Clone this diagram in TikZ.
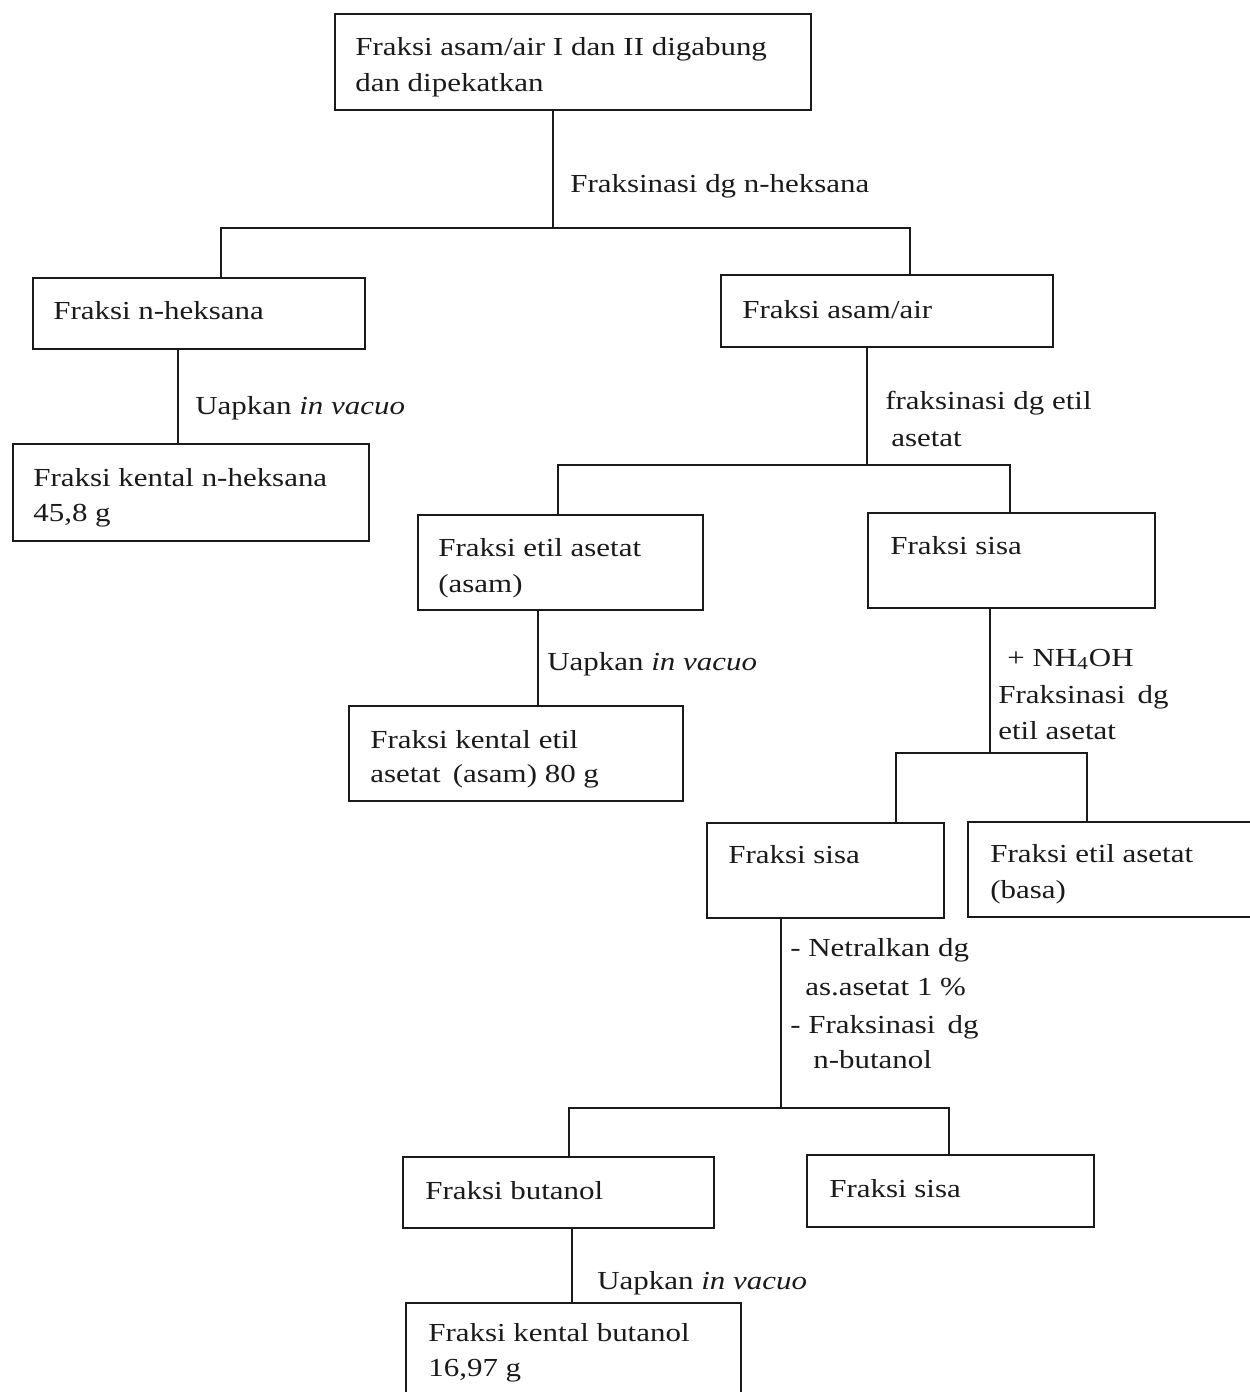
\documentclass[tikz,border=0pt]{standalone}
\usepackage{fontspec}
\setmainfont{Liberation Serif}[FakeStretch=1.19]
\usetikzlibrary{fit}
\definecolor{ink}{HTML}{1A1A1A}
\begin{document}
\begin{tikzpicture}[x=0.02cm,y=-0.02cm,
  box/.style={draw=ink, line width=1.1pt, inner sep=0pt},
  txt/.style={anchor=base west, inner sep=0pt, text=ink, font=\fontsize{14.8}{17}\selectfont},
  ln/.style={draw=ink, line width=1.1pt}]
\useasboundingbox (0,0) rectangle (1250,1392);
\clip (0,0) rectangle (1250,1392);

% boxes
\node[box, fit={(335,14) (811,110)}] (b1) {};
\node[box, fit={(33,278) (365,349)}] (b2) {};
\node[box, fit={(721,275) (1053,347)}] (b3) {};
\node[box, fit={(13,444) (369,541)}] (b4) {};
\node[box, fit={(418,515) (703,610)}] (b5) {};
\node[box, fit={(868,513) (1155,608)}] (b6) {};
\node[box, fit={(349,706) (683,801)}] (b7) {};
\node[box, fit={(707,823) (944,918)}] (b8) {};
\node[box, fit={(968,822) (1262,917)}] (b9) {};
\node[box, fit={(403,1157) (714,1228)}] (b10) {};
\node[box, fit={(807,1155) (1094,1227)}] (b11) {};
\node[box, fit={(406,1303) (741,1420)}] (b12) {};

% box texts
\node[txt] (t1a) at (355,56) {Fraksi asam/air I dan II digabung};
\node[txt] (t1b) at (355,92) {dan dipekatkan};
\node[txt] (t2) at (53,319) {Fraksi n-heksana};
\node[txt] (t3) at (742,318) {Fraksi asam/air};
\node[txt] (t4a) at (33,486) {Fraksi kental n-heksana};
\node[txt] (t4b) at (33,521) {45,8 g};
\node[txt] (t5a) at (438,556) {Fraksi etil asetat};
\node[txt] (t5b) at (438,592) {(asam)};
\node[txt] (t6) at (890,554) {Fraksi sisa};
\node[txt] (t7a) at (370,748) {Fraksi kental etil};
\node[txt] (t7b) at (370,782) {asetat\, (asam) 80 g};
\node[txt] (t8) at (728,863) {Fraksi sisa};
\node[txt] (t9a) at (990,862) {Fraksi etil asetat};
\node[txt] (t9b) at (990,898) {(basa)};
\node[txt] (t10) at (425,1199) {Fraksi butanol};
\node[txt] (t11) at (829,1197) {Fraksi sisa};
\node[txt] (t12a) at (428,1341) {Fraksi kental butanol};
\node[txt] (t12b) at (428,1376) {16,97 g};

% junction coordinates
\coordinate (j1) at (553,228); \coordinate (j1l) at (221,228); \coordinate (j1r) at (910,228);
\coordinate (c2) at (178,400);
\coordinate (j3) at (867,465); \coordinate (j3l) at (558,465); \coordinate (j3r) at (1010,465);
\coordinate (c5) at (538,650);
\coordinate (j6) at (990,753); \coordinate (j6l) at (896,753); \coordinate (j6r) at (1087,753);
\coordinate (j8) at (781,1108); \coordinate (j8l) at (569,1108); \coordinate (j8r) at (949,1108);
\coordinate (c10) at (572,1260);

% connectors
\draw[ln] (b1.south -| j1) -- (j1);
\draw[ln] (b2.north -| j1l) -- (j1l) -- (j1r) -- (b3.north -| j1r);
\draw[ln] (b2.south -| c2) -- (b4.north -| c2);
\draw[ln] (b3.south -| j3) -- (j3);
\draw[ln] (b5.north -| j3l) -- (j3l) -- (j3r) -- (b6.north -| j3r);
\draw[ln] (b5.south -| c5) -- (b7.north -| c5);
\draw[ln] (b6.south -| j6) -- (j6);
\draw[ln] (b8.north -| j6l) -- (j6l) -- (j6r) -- (b9.north -| j6r);
\draw[ln] (b8.south -| j8) -- (j8);
\draw[ln] (b10.north -| j8l) -- (j8l) -- (j8r) -- (b11.north -| j8r);
\draw[ln] (b10.south -| c10) -- (b12.north -| c10);

% connector labels
\node[txt] (l1) at (570,193) {Fraksinasi dg n-heksana};
\node[txt] (l2) at (195,414) {Uapkan \textit{in vacuo}};
\node[txt] (l3a) at (885,409) {fraksinasi dg etil};
\node[txt] (l3b) at (891,446) {asetat};
\node[txt] (l5) at (547,670) {Uapkan \textit{in vacuo}};
\node[txt] (l6a) at (1007,666) {+ NH\textsubscript{4}OH};
\node[txt] (l6b) at (998,703) {Fraksinasi\, dg};
\node[txt] (l6c) at (998,739) {etil asetat};
\node[txt] (l8a) at (790,956) {- Netralkan dg};
\node[txt] (l8b) at (805,995) {as.asetat 1 \%};
\node[txt] (l8c) at (790,1033) {- Fraksinasi\, dg};
\node[txt] (l8d) at (813,1068) {n-butanol};
\node[txt] (l10) at (597,1289) {Uapkan \textit{in vacuo}};
\end{tikzpicture}
\end{document}
